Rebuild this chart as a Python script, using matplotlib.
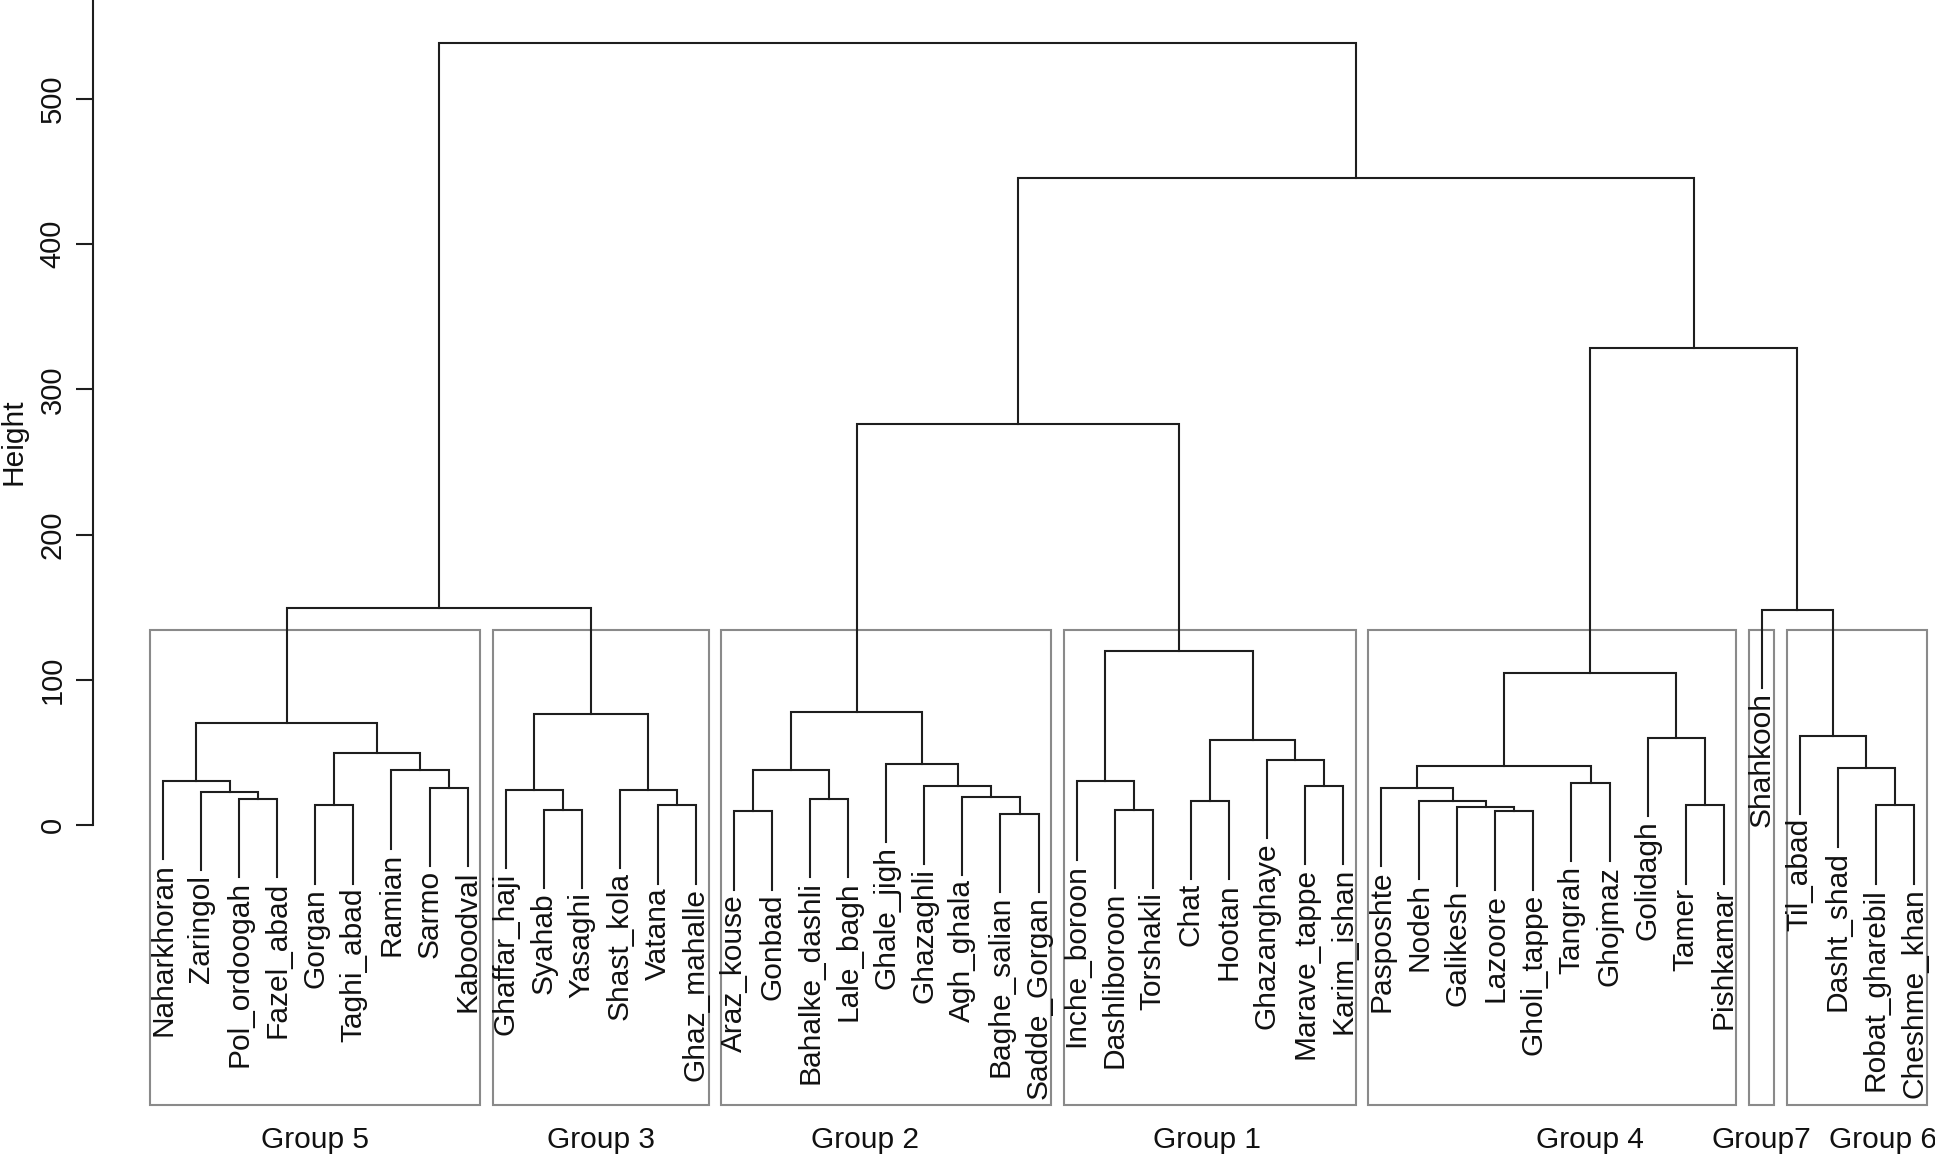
#!/usr/bin/env python3
"""
Redraw the hierarchical clustering dendrogram of the 47 stations,
with the seven groups boxed in gray (R plot.hclust + rect.hclust look).
"""

import matplotlib
matplotlib.use("Agg")
import matplotlib.pyplot as plt
from matplotlib.patches import Rectangle

plt.rcParams["font.family"] = ["Liberation Sans", "DejaVu Sans"]

# Leaves in the order they appear on the x axis
LEAF_LABELS = [
    "Naharkhoran", "Zaringol", "Pol_ordoogah", "Fazel_abad", "Gorgan",
    "Taghi_abad", "Ramian", "Sarmo", "Kaboodval",
    "Ghaffar_haji", "Syahab", "Yasaghi", "Shast_kola", "Vatana", "Ghaz_mahalle",
    "Araz_kouse", "Gonbad", "Bahalke_dashli", "Lale_bagh", "Ghale_jigh",
    "Ghazaghli", "Agh_ghala", "Baghe_salian", "Sadde_Gorgan",
    "Inche_boroon", "Dashliboroon", "Torshakli", "Chat", "Hootan",
    "Ghazanghaye", "Marave_tappe", "Karim_ishan",
    "Pasposhte", "Nodeh", "Galikesh", "Lazoore", "Gholi_tappe", "Tangrah",
    "Ghojmaz", "Golidagh", "Tamer", "Pishkamar",
    "Shahkooh",
    "Til_abad", "Dasht_shad", "Robat_gharebil", "Cheshme_khan",
]

# Merge steps: a string is a leaf, an int points to an earlier merge
MERGE_LEFT = [
    "Pol_ordoogah", "Zaringol", "Naharkhoran", "Gorgan", "Sarmo", "Ramian", 3, 2,
    "Syahab", "Ghaffar_haji", "Vatana", "Shast_kola", 9, 7,
    "Araz_kouse", "Bahalke_dashli", 14, "Baghe_salian", "Agh_ghala",
    "Ghazaghli", "Ghale_jigh", 16,
    "Dashliboroon", "Inche_boroon", "Chat", "Marave_tappe", "Ghazanghaye", 24, 23,
    21,
    "Lazoore", "Galikesh", "Nodeh", "Pasposhte", "Tangrah", 33, "Tamer",
    "Golidagh", 35,
    "Robat_gharebil", "Dasht_shad", "Til_abad", "Shahkooh", 38, 29, 13,
]
MERGE_RIGHT = [
    "Fazel_abad", 0, 1, "Taghi_abad", "Kaboodval", 4, 5, 6,
    "Yasaghi", 8, "Ghaz_mahalle", 10, 11, 12,
    "Gonbad", "Lale_bagh", 15, "Sadde_Gorgan", 17, 18, 19, 20,
    "Torshakli", 22, "Hootan", "Karim_ishan", 25, 26, 27,
    28,
    "Gholi_tappe", 30, 31, 32, "Ghojmaz", 34, "Pishkamar", 36, 37,
    "Cheshme_khan", 39, 40, 41, 42, 43, 44,
]
MERGE_HEIGHT = [
    18.0, 22.6, 30.4, 13.5, 25.6, 37.7, 49.5, 70.3,
    10.7, 24.2, 13.5, 24.2, 76.5, 149.8,
    9.4, 18.0, 37.7, 7.8, 19.6, 27.2, 42.2, 78.1,
    10.7, 30.1, 16.7, 27.2, 45.0, 58.7, 119.9,
    275.9,
    9.4, 12.1, 16.7, 25.6, 28.8, 40.9, 13.5, 60.0, 105.0,
    13.5, 39.0, 61.6, 148.2, 328.2, 445.8, 538.8,
]

# Groups from left to right
GROUP_NAMES = ["Group 5", "Group 3", "Group 2", "Group 1", "Group 4", "Group7", "Group 6"]
N_GROUPS = len(GROUP_NAMES)
Y_TICKS = [0, 100, 200, 300, 400, 500]

# Layout
FIG_W, FIG_H = 1935, 1158
AXES_RECT = [93 / FIG_W, 53 / FIG_H, 1 - 93 / FIG_W, 1 - 53 / FIG_H]
XLIM = (-0.84, 47.55)
YLIM = (-192.8, 568.2)
GROUP_LABEL_Y = -217
GROUP_LABEL_SHIFT = [0.0, 0.0, -0.55, -0.08, 1.0, 0.0, 0.7]
LINE_COLOR = "#1e1e1e"
BOX_COLOR = "#8a8a8a"
FONT_SIZE = 21.5


def build_tree():
    """Compute x position and height for every node of the merge table."""
    leaf_x = {name: i + 1 for i, name in enumerate(LEAF_LABELS)}
    node_x = []
    for left, right in zip(MERGE_LEFT, MERGE_RIGHT):
        xs = [leaf_x[c] if isinstance(c, str) else node_x[c] for c in (left, right)]
        node_x.append(sum(xs) / 2)
    return leaf_x, node_x


def cut_groups(cut):
    """Return leaf counts of the clusters below the cut height, left to right."""
    def walk(node):
        if isinstance(node, str):
            return [[node]]
        if MERGE_HEIGHT[node] < cut:
            return [leaves_of(node)]
        return walk(MERGE_LEFT[node]) + walk(MERGE_RIGHT[node])

    def leaves_of(node):
        if isinstance(node, str):
            return [node]
        return leaves_of(MERGE_LEFT[node]) + leaves_of(MERGE_RIGHT[node])

    root = len(MERGE_HEIGHT) - 1
    return [len(g) for g in walk(root)]


def main():
    leaf_x, node_x = build_tree()
    hang = 0.1 * max(MERGE_HEIGHT)

    fig = plt.figure(figsize=(FIG_W / 100, FIG_H / 100), dpi=100)
    ax = fig.add_axes(AXES_RECT)

    # --- dendrogram branches and leaf labels ---
    for i, (left, right) in enumerate(zip(MERGE_LEFT, MERGE_RIGHT)):
        h = MERGE_HEIGHT[i]
        xs, ys = [], []
        for child in (left, right):
            if isinstance(child, str):
                xs.append(leaf_x[child])
                ys.append(h - hang)
                ax.annotate(child, xy=(leaf_x[child], h - hang), xytext=(0, -3),
                            textcoords="offset points", rotation=90,
                            ha="center", va="top", fontsize=FONT_SIZE,
                            color="#111111")
            else:
                xs.append(node_x[child])
                ys.append(MERGE_HEIGHT[child])
        ax.plot([xs[0], xs[0], xs[1], xs[1]], [ys[0], h, h, ys[1]],
                color=LINE_COLOR, lw=1.5, solid_joinstyle="miter")

    # --- gray boxes around the groups (rect.hclust) ---
    heights_desc = sorted(MERGE_HEIGHT, reverse=True)
    cut = (heights_desc[N_GROUPS - 2] + heights_desc[N_GROUPS - 1]) / 2
    sizes = cut_groups(cut)
    start = 0
    for gi, size in enumerate(sizes):
        x0 = start + 0.66
        x1 = start + size + 0.33
        ax.add_patch(Rectangle((x0, YLIM[0]), x1 - x0, cut - YLIM[0],
                               fill=False, edgecolor=BOX_COLOR, lw=1.5,
                               clip_on=False))
        ax.text((x0 + x1) / 2 + GROUP_LABEL_SHIFT[gi], GROUP_LABEL_Y,
                GROUP_NAMES[gi], ha="center", va="center",
                fontsize=FONT_SIZE, color="#111111", clip_on=False)
        start += size

    # --- axes styling ---
    ax.set_xlim(*XLIM)
    ax.set_ylim(*YLIM)
    for side in ("top", "right", "bottom"):
        ax.spines[side].set_visible(False)
    ax.spines["left"].set_bounds(0, YLIM[1])
    ax.spines["left"].set_linewidth(1.5)
    ax.spines["left"].set_color(LINE_COLOR)
    ax.set_xticks([])
    ax.set_yticks(Y_TICKS)
    ax.set_yticklabels([str(t) for t in Y_TICKS])
    ax.tick_params(axis="y", length=12, width=1.5, pad=7,
                   labelsize=21, color=LINE_COLOR, labelcolor="#111111")
    for lbl in ax.get_yticklabels():
        lbl.set_rotation(90)
        lbl.set_va("center")
        lbl.set_ha("right")

    fig.text(13.6 / FIG_W, 1 - 442 / FIG_H, "Height", rotation=90,
             ha="center", va="center", fontsize=FONT_SIZE, color="#111111")

    fig.savefig("out.png", dpi=100)


if __name__ == "__main__":
    main()
